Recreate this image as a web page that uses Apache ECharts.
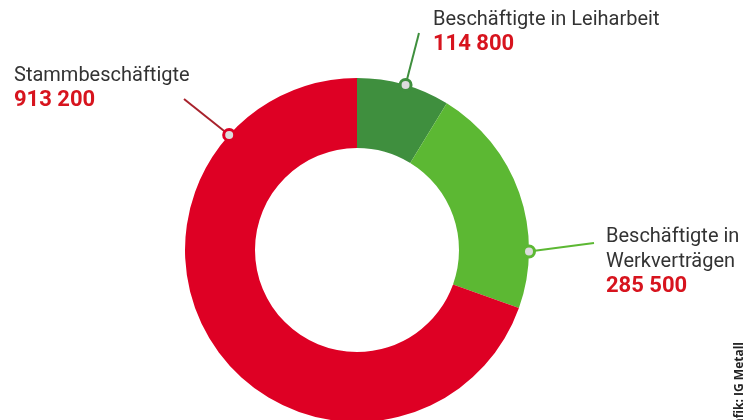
<!DOCTYPE html>
<html><head><meta charset="utf-8">
<script src="https://cdn.jsdelivr.net/npm/echarts@6/dist/echarts.min.js"></script>
<style>html,body{margin:0;padding:0;background:#fff}#c{width:755px;height:420px}</style>
</head><body><div id="c"></div>
<script>
const categories = ['Beschäftigte in Leiharbeit', 'Beschäftigte in\nWerkverträgen', 'Stammbeschäftigte'];
const values = [114800, 285500, 913200];
const colors = ['#3f8f3e', '#5cb833', '#de0024'];
const lineColors = ['#3f8f3e', '#5cb833', '#a8222c'];
const source = 'Grafik: IG Metall';

// layout (not data)
const CX = 357, CY = 250, R0 = 102, R1 = 172;
const markerAngles = [16.4, 90.5, 312];          // degrees clockwise from top
const lineEnds = [[419, 33], [594, 243], [184, 99]];
const labelPos = [[433, 7], [606, 224], [14, 63]];

function pt(a) { const r = a * Math.PI / 180; return [CX + R1 * Math.sin(r), CY - R1 * Math.cos(r)]; }
function fmt(v) { return String(v).replace(/\B(?=(\d{3})+(?!\d))/g, ' '); }

const chart = echarts.init(document.getElementById('c'), null, { renderer: 'canvas' });
const FONT = "Roboto, sans-serif";
chart.setOption({
  animation: false,
  series: [{
    type: 'pie',
    center: [CX, CY],
    radius: [R0, R1],
    startAngle: 90,
    clockwise: true,
    silent: true,
    data: categories.map((n, i) => ({
      name: n, value: values[i],
      itemStyle: { color: colors[i] },
      labelLine: { lineStyle: { color: lineColors[i], width: 2 } }
    })),
    label: {
      show: true,
      position: 'outside',
      overflow: 'none',
      width: 400,
      formatter: p => p.name.split('\n').map(s => '{n|' + s + '}').join('\n') + '\n{v|' + fmt(p.value) + '}',
      rich: {
        n: { fontFamily: FONT, fontSize: 20, color: '#333', lineHeight: 25 },
        v: { fontFamily: FONT, fontSize: 22, fontWeight: 'bold', color: '#d7141e', lineHeight: 25 }
      }
    },
    labelLine: { show: true, smooth: false },
    labelLayout: p => {
      const i = p.dataIndex;
      const m = pt(markerAngles[i]);
      return {
        x: labelPos[i][0], y: labelPos[i][1], align: 'left', verticalAlign: 'top',
        labelLinePoints: [m, lineEnds[i], lineEnds[i]]
      };
    }
  }],
  graphic: markerAngles.map((a, i) => {
    const m = pt(a);
    return { type: 'circle', z: 100, shape: { cx: m[0], cy: m[1], r: 5.5 },
      style: { fill: '#dcdcdc', stroke: colors[i], lineWidth: 3 } };
  }).concat([{
    type: 'text', z: 100, x: 740, y: 342, rotation: Math.PI / 2,
    style: { text: source, fontFamily: "'Open Sans', sans-serif", fontSize: 12, fontWeight: 'bold',
      fill: '#222', align: 'right', verticalAlign: 'middle' }
  }])
});
</script></body></html>
